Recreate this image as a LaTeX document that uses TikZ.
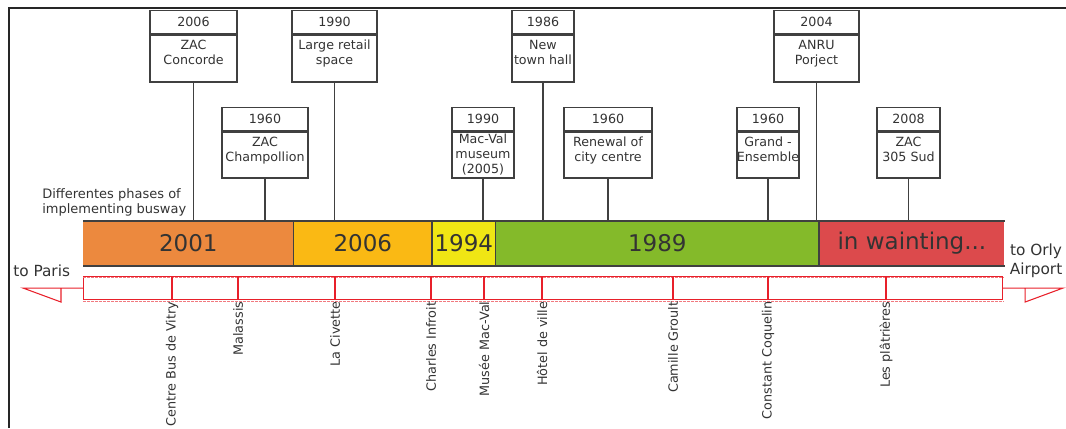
\documentclass[tikz,border=0pt]{standalone}
\usepackage{fontspec}
\setmainfont{DejaVu Sans}
\definecolor{cA}{HTML}{EC893E}
\definecolor{cB}{HTML}{FAB914}
\definecolor{cC}{HTML}{F0E614}
\definecolor{cD}{HTML}{84BA2A}
\definecolor{cE}{HTML}{DC4A4C}
\definecolor{ink}{HTML}{333333}
\definecolor{trackred}{HTML}{E8202A}
\newcommand\myboxfont{\fontsize{9.5}{11.25}\selectfont}
\newcommand\mybarfont{\fontsize{17.25}{20}\selectfont}
\newcommand\mystnfont{\fontsize{9.6}{11}\selectfont}
\newcommand\myendfont{\fontsize{11.5}{14}\selectfont}
\newcommand\mynotefont{\fontsize{9.75}{11.25}\selectfont}
\begin{document}
\begin{tikzpicture}[x=0.75pt,y=-0.75pt,
  hdr/.style={draw=black!75,line width=1pt,minimum width=#1,minimum height=17.25pt,inner sep=0pt,anchor=north,font=\myboxfont,text=ink},
  bodyr/.style 2 args={draw=black!75,line width=1pt,minimum width=#1,minimum height=#2,inner sep=0pt,anchor=north},
  btxt/.style={anchor=north,align=center,inner sep=0pt,font=\myboxfont,text=ink,yshift=-4pt},
  conn/.style={draw=black!75,line width=1pt},
  seg/.style={fill=#1,minimum height=33.75pt,inner sep=0pt,anchor=west,font=\mybarfont,text=ink},
  barline/.style={draw=black!75,line width=1.2pt},
  trackline/.style={draw=trackred,line width=0.8pt},
  stn/.style={rotate=90,anchor=east,inner sep=1pt,font=\mystnfont,text=ink},
  endlbl/.style={font=\myendfont,text=ink,inner sep=0pt}]
\useasboundingbox (0,0) rectangle (1066,428);
% frame
\draw[black!85,line width=1.4pt] (9,428) -- (9,8) -- (1066,8);

% bar segments
\node[seg=cA,minimum width=157.5pt] (s1) at (83,243.5) {2001};
\node[seg=cB,minimum width=103.5pt] (s2) at (s1.east) {2006};
\node[seg=cC,minimum width=47.25pt] (s3) at (s2.east) {1994};
\node[seg=cD,minimum width=242.25pt] (s4) at (s3.east) {1989};
\node[seg=cE,minimum width=138.75pt] (s5) at (s4.east) {in wainting...};
\draw[barline] (s1.north west) -- (s5.north east);
\draw[barline] (s1.south west) -- (s5.south east);
\foreach \s in {s1,s2,s3,s4}{\draw[barline] (\s.north east) -- (\s.south east);}

% note
\node[anchor=west,align=left,font=\mynotefont,text=ink,inner sep=0pt] (note) at (42,202) {Differentes phases of\\implementing busway};

% row 1 boxes
\node[hdr=65.25pt] (h1) at (193.5,10) {2006};
\node[bodyr={65.25pt}{35.25pt}] (b1) at (h1.south) {};
\node[btxt] (t1) at (b1.north) {ZAC\\Concorde};
\node[hdr=63.75pt] (h2) at (334.5,10) {1990};
\node[bodyr={63.75pt}{35.25pt}] (b2) at (h2.south) {};
\node[btxt] (t2) at (b2.north) {Large retail\\space};
\node[hdr=46.5pt] (h3) at (543,10) {1986};
\node[bodyr={46.5pt}{35.25pt}] (b3) at (h3.south) {};
\node[btxt] (t3) at (b3.north) {New\\town hall};
\node[hdr=63.75pt] (h4) at (816.5,10) {2004};
\node[bodyr={63.75pt}{35.25pt}] (b4) at (h4.south) {};
\node[btxt] (t4) at (b4.north) {ANRU\\Porject};

% row 2 boxes
\node[hdr=64.5pt] (h5) at (265,107) {1960};
\node[bodyr={64.5pt}{34.5pt}] (b5) at (h5.south) {};
\node[btxt] (t5) at (b5.north) {ZAC\\Champollion};
\node[hdr=46.5pt] (h6) at (483,107) {1990};
\node[bodyr={46.5pt}{34.5pt}] (b6) at (h6.south) {};
\node[btxt,yshift=2.5pt] (t6) at (b6.north) {Mac-Val\\museum\\(2005)};
\node[hdr=66pt] (h7) at (608,107) {1960};
\node[bodyr={66pt}{34.5pt}] (b7) at (h7.south) {};
\node[btxt] (t7) at (b7.north) {Renewal of\\city centre};
\node[hdr=46.5pt] (h8) at (768,107) {1960};
\node[bodyr={46.5pt}{34.5pt}] (b8) at (h8.south) {};
\node[btxt] (t8) at (b8.north) {Grand -\\Ensemble};
\node[hdr=47.25pt] (h9) at (908.5,107) {2008};
\node[bodyr={47.25pt}{34.5pt}] (b9) at (h9.south) {};
\node[btxt] (t9) at (b9.north) {ZAC\\305 Sud};

% connectors
\foreach \b in {b1,b2,b3,b4,b5,b6,b7,b8,b9}{\draw[conn] (\b.south) -- (\b.south |- s1.north);}

% track
\node[trackline,minimum width=689.25pt,minimum height=17.25pt,inner sep=0pt,anchor=north west] (track) at (83,276) {};
\draw[trackred!60,line width=0.5pt,dash pattern=on 2pt off 1pt] ([yshift=-1.2pt]track.south west) -- ([yshift=-1.2pt]track.south east);
\draw[trackred!60,line width=0.5pt,dash pattern=on 2pt off 1pt] ([yshift=-1.2pt]track.north west) -- ([yshift=-1.2pt]track.north east);
\draw[trackline] (track.west) -- ++(-60,0) -- ++(38,14) -- ++(0,-14);
\draw[trackline] (track.east) -- ++(60,0) -- ++(-38,14) -- ++(0,-14);

% end labels
\node[endlbl,anchor=west] (paris) at (13,271) {to Paris};
\node[endlbl,align=center] (orly) at (1036,261) {to Orly\\Airport};

% stations
\node[stn] (c1) at (172,300) {Centre Bus de Vitry};
\node[stn] (c2) at (238,300) {Malassis};
\node[stn] (c3) at (335,300) {La Civette};
\node[stn] (c4) at (431,300) {Charles Infroit};
\node[stn] (c5) at (484,300) {Musée Mac-Val};
\node[stn] (c6) at (542,300) {Hôtel de ville};
\node[stn] (c7) at (673,300) {Camille Groult};
\node[stn] (c8) at (768,300) {Constant Coquelin};
\node[stn] (c9) at (886,300) {Les plâtrières};
\foreach \c in {c1,c2,c3,c4,c5,c6,c7,c8,c9}{\draw[trackline] (\c.east |- track.north) -- (\c.east |- track.south);}
\end{tikzpicture}
\end{document}
